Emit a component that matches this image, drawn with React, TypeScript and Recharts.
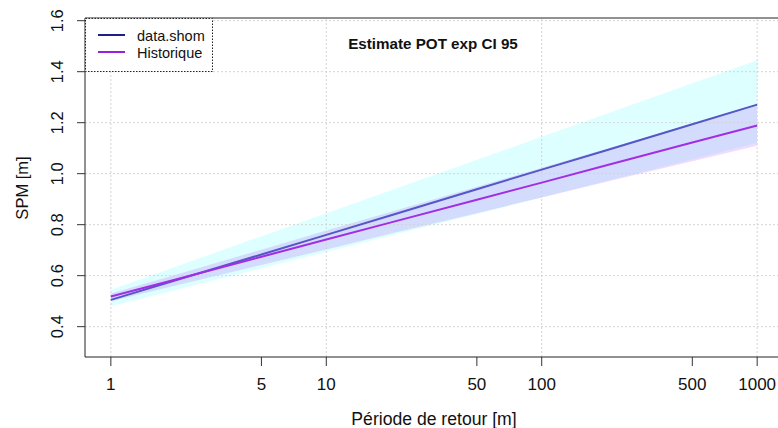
import {
  ComposedChart,
  Area,
  Line,
  XAxis,
  YAxis,
  ReferenceLine,
} from "recharts";

// return periods and estimates
const periods = [1, 2, 5, 10, 20, 50, 100, 200, 500, 1000];
const shomValues = [0.505, 0.582, 0.683, 0.76, 0.837, 0.939, 1.016, 1.092, 1.194, 1.271];
const shomLow = [0.48, 0.544, 0.629, 0.693, 0.758, 0.842, 0.907, 0.971, 1.056, 1.12];
const shomHigh = [0.545, 0.635, 0.755, 0.845, 0.935, 1.055, 1.145, 1.235, 1.355, 1.445];
const histValues = [0.518, 0.585, 0.674, 0.742, 0.809, 0.898, 0.965, 1.033, 1.122, 1.189];
const histLow = [0.5, 0.561, 0.642, 0.703, 0.765, 0.845, 0.907, 0.968, 1.049, 1.11];
const histHigh = [0.53, 0.604, 0.702, 0.777, 0.851, 0.949, 1.023, 1.098, 1.196, 1.27];

const xTicks = [1, 5, 10, 50, 100, 500, 1000];
const xGrid = [1, 10, 100, 1000];
const yTicks = [0.4, 0.6, 0.8, 1.0, 1.2, 1.4, 1.6];

const X_DOMAIN: [number, number] = [0.7586, 1318];
const Y_DOMAIN: [number, number] = [0.281, 1.6106];

const FONT = "'Liberation Sans', Arial, sans-serif";

const data = periods.map((t, i) => ({
  t,
  shom: shomValues[i],
  hist: histValues[i],
  shomCI: [shomLow[i], shomHigh[i]],
  histCI: [histLow[i], histHigh[i]],
}));

function YTick({ y, payload }: { y?: number; payload?: { value: number } }) {
  if (y === undefined || !payload) return null;
  return (
    <text
      x={63}
      y={y}
      transform={`rotate(-90, 63, ${y})`}
      textAnchor="middle"
      fontSize={16.5}
      fontFamily={FONT}
      fill="#111"
    >
      {payload.value.toFixed(1)}
    </text>
  );
}

function XTick({ x, payload }: { x?: number; payload?: { value: number } }) {
  if (x === undefined || !payload) return null;
  return (
    <text x={x} y={390} textAnchor="middle" fontSize={17} fontFamily={FONT} fill="#111">
      {payload.value}
    </text>
  );
}

export default function App() {
  return (
    <div
      style={{
        position: "absolute",
        left: 0,
        top: 0,
        width: 778,
        height: 428,
        overflow: "hidden",
        background: "#fff",
      }}
    >
      <ComposedChart
        width={790}
        height={428}
        data={data}
        margin={{ top: 18, right: 7, left: 25, bottom: 0 }}
      >
        <XAxis
          dataKey="t"
          type="number"
          scale="log"
          domain={X_DOMAIN}
          allowDataOverflow
          ticks={xTicks}
          tick={<XTick />}
          tickSize={9}
          height={71}
          axisLine={{ stroke: "#222" }}
          tickLine={{ stroke: "#333" }}
        />
        <YAxis
          type="number"
          domain={Y_DOMAIN}
          allowDataOverflow
          ticks={yTicks}
          tick={<YTick />}
          tickSize={8}
          width={60}
          axisLine={{ stroke: "#222" }}
          tickLine={{ stroke: "#333" }}
        />
        {xGrid.map((v) => (
          <ReferenceLine key={`gx${v}`} x={v} stroke="#d3d3d3" strokeDasharray="2 2" />
        ))}
        {yTicks.map((v) => (
          <ReferenceLine key={`gy${v}`} y={v} stroke="#d3d3d3" strokeDasharray="2 2" />
        ))}
        <ReferenceLine y={Y_DOMAIN[1]} stroke="#222" />
        <Area
          type="linear"
          dataKey="shomCI"
          stroke="none"
          fill="#00ffff"
          fillOpacity={0.13}
          isAnimationActive={false}
          activeDot={false}
        />
        <Area
          type="linear"
          dataKey="histCI"
          stroke="none"
          fill="#a020f0"
          fillOpacity={0.157}
          isAnimationActive={false}
          activeDot={false}
        />
        <Line
          type="linear"
          dataKey="shom"
          stroke="#5656c6"
          strokeWidth={2}
          dot={false}
          isAnimationActive={false}
        />
        <Line
          type="linear"
          dataKey="hist"
          stroke="#a22ee4"
          strokeWidth={2}
          dot={false}
          isAnimationActive={false}
        />
      </ComposedChart>

      <svg
        width={778}
        height={428}
        style={{ position: "absolute", left: 0, top: 0, pointerEvents: "none" }}
        fontFamily={FONT}
      >
        <rect x={85.5} y={18.5} width={127} height={53} fill="#fff" stroke="#222" strokeDasharray="1.5 1.5" />
        <line x1={98} y1={35} x2={125} y2={35} stroke="#1e1e8c" strokeWidth={2} />
        <line x1={98} y1={52} x2={125} y2={52} stroke="#9b1de0" strokeWidth={2} />
        <text x={137} y={41} fontSize={14.5} fill="#111">
          data.shom
        </text>
        <text x={137} y={58} fontSize={14.5} fill="#111">
          Historique
        </text>
        <text x={433} y={49} textAnchor="middle" fontSize={15.2} fontWeight="bold" fill="#111">
          Estimate POT exp CI 95
        </text>
        <text x={434} y={425} textAnchor="middle" fontSize={17.6} fill="#111">
          Période de retour [m]
        </text>
        <text
          x={28}
          y={188}
          transform="rotate(-90, 28, 188)"
          textAnchor="middle"
          fontSize={16.5}
          fill="#111"
        >
          SPM [m]
        </text>
      </svg>
    </div>
  );
}
